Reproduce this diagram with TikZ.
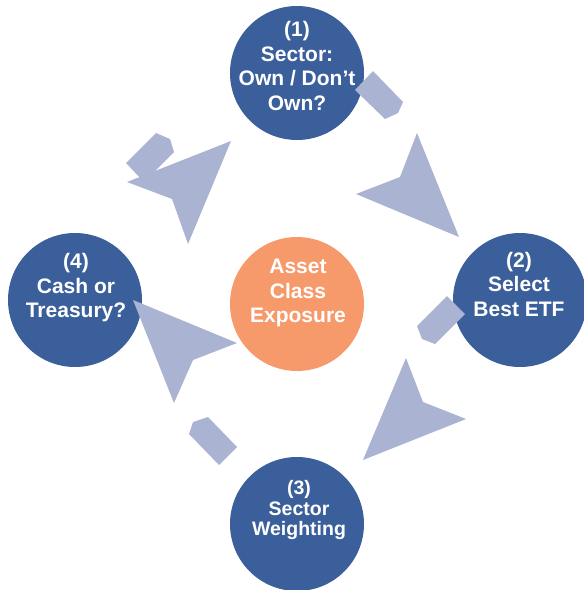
\documentclass[tikz,border=0pt]{standalone}
\usepackage{fontspec}
\setmainfont{Liberation Sans}
\definecolor{stageblue}{HTML}{3A5F9B}
\definecolor{huborange}{HTML}{F79A6B}
\definecolor{arrowgray}{HTML}{ABB3D3}
\tikzset{
  stage/.style={circle, fill=stageblue, minimum size=134pt, inner sep=0pt},
  hub/.style={circle, fill=huborange, minimum size=134pt, inner sep=0pt},
  stagetext/.style={text=white, font=\fontsize{21}{24.5}\selectfont\bfseries, align=center, inner sep=0pt},
  piece/.style={fill=arrowgray},
}
\begin{document}
\begin{tikzpicture}[x=1pt,y=-1pt]
	\useasboundingbox (0,0) rectangle (584,590);

	\node[stage] (s1) at (297,73) {};
	\node[stage] (s2) at (520,300) {};
	\node[stage] (s3) at (297,524) {};
	\node[stage] (s4) at (75,300) {};
	\node[hub] (hub) at (297,304) {};

	\node[stagetext] (t1) at (297,66) {(1)\\Sector:\\Own / Don’t\\Own?};
	\node[stagetext] (t2) at (519,284) {(2)\\Select\\Best ETF};
	\node[stagetext, font=\fontsize{19.5}{20.5}\selectfont\bfseries] (t3) at (299,510) {(3)\\Sector\\Weighting};
	\node[stagetext] (t4) at (76,288) {(4)\\Cash or\\Treasury?};
	\node[stagetext] (th) at (298,293) {Asset\\Class\\Exposure};

	% pieces of the cycle arrows
	\fill[piece] (373,71) -- (403,102) -- (398,113) -- (385,119) -- (355,90) -- cycle;
	\fill[piece] (417,133) -- (400,177) -- (356,194) -- (459,237) -- cycle;

	\fill[piece] (447,296) -- (465,314) -- (435,344) -- (422,339) -- (417,326) -- cycle;
	\fill[piece] (406,358) -- (423,402) -- (466,419) -- (363,460) -- cycle;

	\fill[piece] (193,422) -- (208,417) -- (237,447) -- (219,465) -- (189,434) -- cycle;
	\fill[piece] (133,300) -- (237,343) -- (193,360) -- (174,403) -- cycle;

	\fill[piece] (126,163) -- (156,133) -- (170,139) -- (174,152) -- (144,182) -- cycle;
	\fill[piece] (231,141) -- (188,244) -- (172,199) -- (127,182) -- cycle;
\end{tikzpicture}
\end{document}
